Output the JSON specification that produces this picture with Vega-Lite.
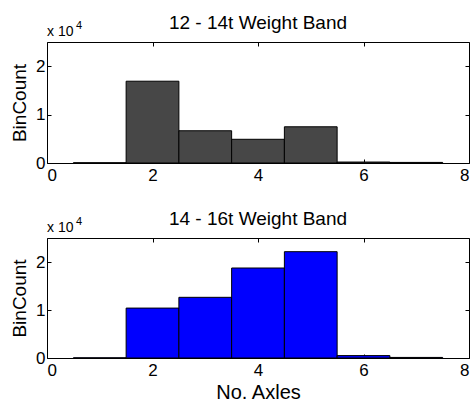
{
  "$schema": "https://vega.github.io/schema/vega-lite/v6.json",
  "padding": {"left": 10, "top": 13, "right": 3, "bottom": 2},
  "background": "#ffffff",
  "config": {
    "font": "Liberation Sans",
    "view": {"stroke": "#000000", "strokeWidth": 1},
    "scale": {"continuousPadding": 0},
    "axis": {
      "grid": false,
      "domain": false,
      "tickColor": "#000000",
      "tickSize": -4,
      "labelColor": "#000000",
      "labelFontSize": 17,
      "labelFont": "Liberation Sans",
      "titleFont": "Liberation Sans",
      "titleFontSize": 19,
      "titleFontWeight": "normal",
      "titleColor": "#000000",
      "labelPadding": 6
    },
    "axisBottom": {"labelPadding": 8},
    "title": {"fontSize": 19, "fontWeight": "normal", "font": "Liberation Sans", "color": "#000000", "offset": -13},
    "concat": {"spacing": 25}
  },
  "datasets": {
    "w1214": [
      {"axles": 1, "lo": 0.5, "hi": 1.5, "count": 50},
      {"axles": 2, "lo": 1.5, "hi": 2.5, "count": 16900},
      {"axles": 3, "lo": 2.5, "hi": 3.5, "count": 6660},
      {"axles": 4, "lo": 3.5, "hi": 4.5, "count": 4900},
      {"axles": 5, "lo": 4.5, "hi": 5.5, "count": 7480},
      {"axles": 6, "lo": 5.5, "hi": 6.5, "count": 200},
      {"axles": 7, "lo": 6.5, "hi": 7.5, "count": 120}
    ],
    "w1416": [
      {"axles": 1, "lo": 0.5, "hi": 1.5, "count": 30},
      {"axles": 2, "lo": 1.5, "hi": 2.5, "count": 10400},
      {"axles": 3, "lo": 2.5, "hi": 3.5, "count": 12640},
      {"axles": 4, "lo": 3.5, "hi": 4.5, "count": 18750},
      {"axles": 5, "lo": 4.5, "hi": 5.5, "count": 22150},
      {"axles": 6, "lo": 5.5, "hi": 6.5, "count": 500},
      {"axles": 7, "lo": 6.5, "hi": 7.5, "count": 120}
    ],
    "marker": [{"base": "x 10", "exp": "4"}]
  },
  "vconcat": [
    {
      "title": "12 - 14t Weight Band",
      "width": 422,
      "height": 121,
      "layer": [
        {
          "data": {"name": "w1214"},
          "mark": {"type": "bar", "fill": "#474747", "stroke": "#000000", "strokeWidth": 1},
          "encoding": {
            "x": {"field": "lo", "type": "quantitative", "scale": {"domain": [0, 8], "nice": false, "padding": 0},
                  "axis": {"orient": "bottom", "values": [0, 2, 4, 6, 8], "title": null}},
            "x2": {"field": "hi"},
            "y": {"field": "count", "type": "quantitative", "scale": {"domain": [0, 25000], "nice": false, "padding": 0},
                  "axis": {"orient": "left", "values": [0, 10000, 20000], "labelExpr": "datum.value / 10000", "title": "BinCount", "titlePadding": 6}},
            "y2": {"datum": 0}
          }
        },
        {
          "data": {"name": "marker"},
          "mark": {"type": "text", "align": "left", "baseline": "alphabetic", "dy": -6, "fontSize": 14, "color": "#000000"},
          "encoding": {
            "text": {"field": "base"},
            "x": {"datum": 0, "type": "quantitative",
                  "axis": {"orient": "top", "values": [0, 2, 4, 6, 8], "labels": false, "title": null}},
            "y": {"datum": 25000, "type": "quantitative",
                  "axis": {"orient": "right", "values": [0, 10000, 20000], "labels": false, "title": null}}
          }
        },
        {
          "data": {"name": "marker"},
          "mark": {"type": "text", "align": "left", "baseline": "alphabetic", "dx": 29, "dy": -13, "fontSize": 11, "color": "#000000"},
          "encoding": {
            "text": {"field": "exp"},
            "x": {"datum": 0, "type": "quantitative", "axis": null},
            "y": {"datum": 25000, "type": "quantitative", "axis": null}
          }
        }
      ],
      "resolve": {"axis": {"x": "independent", "y": "independent"}}
    },
    {
      "title": "14 - 16t Weight Band",
      "width": 422,
      "height": 120,
      "layer": [
        {
          "data": {"name": "w1416"},
          "mark": {"type": "bar", "fill": "#0000ff", "stroke": "#000000", "strokeWidth": 1},
          "encoding": {
            "x": {"field": "lo", "type": "quantitative", "scale": {"domain": [0, 8], "nice": false, "padding": 0},
                  "axis": {"orient": "bottom", "values": [0, 2, 4, 6, 8], "title": "No. Axles", "titleFontSize": 20, "titlePadding": 4}},
            "x2": {"field": "hi"},
            "y": {"field": "count", "type": "quantitative", "scale": {"domain": [0, 25000], "nice": false, "padding": 0},
                  "axis": {"orient": "left", "values": [0, 10000, 20000], "labelExpr": "datum.value / 10000", "title": "BinCount", "titlePadding": 6}},
            "y2": {"datum": 0}
          }
        },
        {
          "data": {"name": "marker"},
          "mark": {"type": "text", "align": "left", "baseline": "alphabetic", "dy": -6, "fontSize": 14, "color": "#000000"},
          "encoding": {
            "text": {"field": "base"},
            "x": {"datum": 0, "type": "quantitative",
                  "axis": {"orient": "top", "values": [0, 2, 4, 6, 8], "labels": false, "title": null}},
            "y": {"datum": 25000, "type": "quantitative",
                  "axis": {"orient": "right", "values": [0, 10000, 20000], "labels": false, "title": null}}
          }
        },
        {
          "data": {"name": "marker"},
          "mark": {"type": "text", "align": "left", "baseline": "alphabetic", "dx": 29, "dy": -13, "fontSize": 11, "color": "#000000"},
          "encoding": {
            "text": {"field": "exp"},
            "x": {"datum": 0, "type": "quantitative", "axis": null},
            "y": {"datum": 25000, "type": "quantitative", "axis": null}
          }
        }
      ],
      "resolve": {"axis": {"x": "independent", "y": "independent"}}
    }
  ]
}
